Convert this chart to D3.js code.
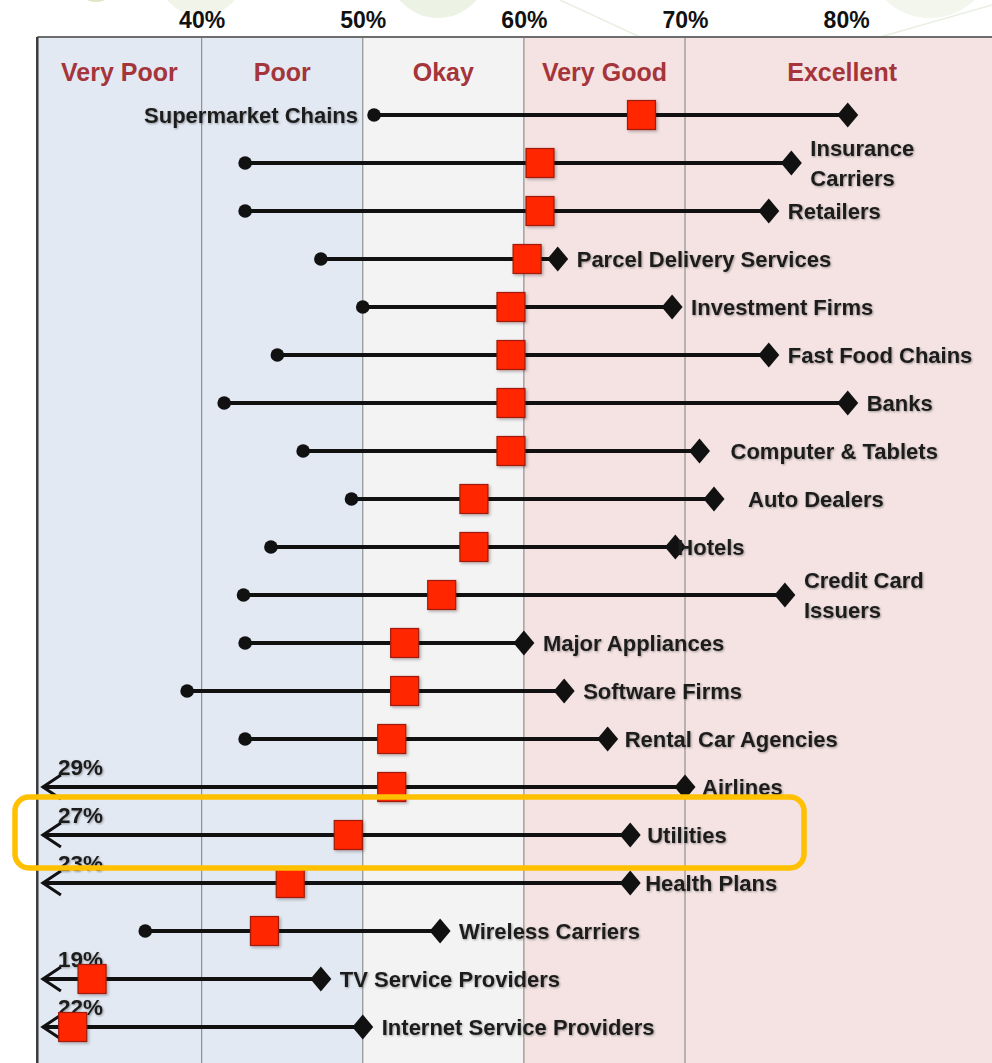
<!DOCTYPE html>
<html>
<head>
<meta charset="utf-8">
<script src="https://cdn.jsdelivr.net/npm/d3@7"></script>
<style>
  html, body { margin: 0; padding: 0; background: #ffffff; }
  svg { display: block; }
  text { font-family: "Liberation Sans", Arial, sans-serif; font-weight: bold; }
</style>
</head>
<body>
<div id="chart"></div>
<script>
// ---------------- DATA ----------------
const categories = [
  "Supermarket Chains", "Insurance Carriers", "Retailers", "Parcel Delivery Services",
  "Investment Firms", "Fast Food Chains", "Banks", "Computer & Tablets", "Auto Dealers",
  "Hotels", "Credit Card Issuers", "Major Appliances", "Software Firms",
  "Rental Car Agencies", "Airlines", "Utilities", "Health Plans", "Wireless Carriers",
  "TV Service Providers", "Internet Service Providers"
];
// lowest score (dot / arrow), average (red square), highest (diamond), in percent
const lowValues  = [50.7, 42.7, 42.7, 47.4, 50.0, 44.7, 41.4, 46.3, 49.3, 44.3, 42.6, 42.7, 39.1, 42.7, 29, 27, 23, 36.5, 19, 22];
const avgValues  = [67.3, 61.0, 61.0, 60.2, 59.2, 59.2, 59.2, 59.2, 56.9, 56.9, 54.9, 52.6, 52.6, 51.8, 51.8, 49.1, 45.5, 43.9, 33.2, 32.0];
const highValues = [80.1, 76.6, 75.2, 62.1, 69.2, 75.2, 80.1, 70.9, 71.8, 69.4, 76.2, 60.0, 62.5, 65.2, 70.0, 66.6, 66.6, 54.8, 47.4, 50.0];

const bandNames = ["Very Poor", "Poor", "Okay", "Very Good", "Excellent"];
const bandEdges = [29.8, 40, 50, 60, 70, 90];
const tickValues = [40, 50, 60, 70, 80];
const gridValues = [40, 50, 60, 70];
const highlighted = "Utilities";

// ---------------- LAYOUT / STYLE ----------------
const W = 992, H = 1063;
const bandColors = ["#e2e9f3", "#e2e9f3", "#f3f3f3", "#f5e3e3", "#f5e3e3"];
const labelWrap = { "Insurance Carriers": ["Insurance", "Carriers"], "Credit Card Issuers": ["Credit Card", "Issuers"] };
const labelNudge = { "Computer & Tablets": 12, "Auto Dealers": 15, "Hotels": -17, "Health Plans": -4, "Airlines": -2, "Utilities": -2, "Rental Car Agencies": -2 };
const labelLeft = new Set(["Supermarket Chains"]);

const svg = d3.select("#chart").append("svg").attr("width", W).attr("height", H);
const defs = svg.append("defs");
const f = defs.append("filter").attr("id", "soft").attr("x", "-10%").attr("y", "-30%").attr("width", "120%").attr("height", "160%");
f.append("feDropShadow").attr("dx", 1).attr("dy", 1).attr("stdDeviation", 1.2).attr("flood-color", "#000").attr("flood-opacity", 0.35);
const f2 = defs.append("filter").attr("id", "sq").attr("x", "-30%").attr("y", "-30%").attr("width", "160%").attr("height", "160%");
f2.append("feDropShadow").attr("dx", 1.5).attr("dy", 1.5).attr("stdDeviation", 1.5).attr("flood-color", "#000").attr("flood-opacity", 0.3);

const x = d3.scaleLinear().domain([30, 70]).range([40.5, 685]);
const y = d3.scalePoint().domain(categories).range([115, 1027]);
const plotTop = 37;

// faint decorative background circles (top)
const deco = svg.append("g");
deco.append("circle").attr("cx", 96).attr("cy", -18).attr("r", 20).attr("fill", "#dfe8c4");
deco.append("circle").attr("cx", 201).attr("cy", -28).attr("r", 44).attr("fill", "#f1f5e9");
deco.append("circle").attr("cx", 438).attr("cy", -32).attr("r", 50).attr("fill", "#edf3e4");
deco.append("circle").attr("cx", 930).attr("cy", -46).attr("r", 64).attr("fill", "#f2f6ec");
deco.append("line").attr("x1", 560).attr("y1", 0).attr("x2", 640).attr("y2", 37).attr("stroke", "#e9efe2").attr("stroke-width", 1.5);
deco.append("line").attr("x1", 880).attr("y1", 37).attr("x2", 992).attr("y2", 5).attr("stroke", "#e9efe2").attr("stroke-width", 1.5);

// bands
const bands = bandNames.map((n, i) => ({ name: n, a: bandEdges[i], b: bandEdges[i + 1], c: bandColors[i] }));
svg.append("g").selectAll("rect").data(bands).join("rect")
  .attr("x", d => x(d.a)).attr("y", plotTop)
  .attr("width", d => x(d.b) - x(d.a)).attr("height", H - plotTop)
  .attr("fill", d => d.c);

// grid lines
svg.append("g").selectAll("line").data(gridValues).join("line")
  .attr("x1", d => x(d)).attr("x2", d => x(d))
  .attr("y1", plotTop).attr("y2", H)
  .attr("stroke", "#8f8f8f").attr("stroke-width", 1.2);

// plot border (top and left)
svg.append("line").attr("x1", x(29.8)).attr("x2", W).attr("y1", plotTop).attr("y2", plotTop)
  .attr("stroke", "#6d6d6d").attr("stroke-width", 2);
svg.append("line").attr("x1", x(29.8)).attr("x2", x(29.8)).attr("y1", plotTop).attr("y2", H)
  .attr("stroke", "#3a3a3a").attr("stroke-width", 2.5);

// band labels
svg.append("g").selectAll("text").data(bands).join("text")
  .attr("x", d => x((d.a + d.b) / 2) - (d.name === "Excellent" ? 4 : 0)).attr("y", 81)
  .attr("text-anchor", "middle").attr("font-size", 25).attr("fill", "#a5353b")
  .text(d => d.name);

// top axis
const axis = d3.axisTop(x).tickValues(tickValues).tickSize(0).tickPadding(9).tickFormat(d => d + "%");
const ag = svg.append("g").attr("transform", `translate(0,${plotTop})`).call(axis);
ag.select(".domain").remove();
ag.selectAll("text").attr("font-size", 23).attr("fill", "#111").attr("font-family", "Liberation Sans, Arial, sans-serif").attr("font-weight", "bold");

// rows
const rows = categories.map((c, i) => ({ name: c, low: lowValues[i], avg: avgValues[i], high: highValues[i] }));
const xmin = x.domain()[0];
const tipX = x(30.15);

const g = svg.append("g");
// lines
g.selectAll("line.rng").data(rows).join("line").attr("class", "rng")
  .attr("x1", d => d.low < xmin ? tipX : x(d.low)).attr("x2", d => x(d.high))
  .attr("y1", d => y(d.name)).attr("y2", d => y(d.name))
  .attr("stroke", "#111").attr("stroke-width", 4);

// low dots
g.selectAll("circle.low").data(rows.filter(d => d.low >= xmin)).join("circle").attr("class", "low")
  .attr("cx", d => x(d.low)).attr("cy", d => y(d.name)).attr("r", 6.8).attr("fill", "#111");

// arrows for off-scale lows
const off = rows.filter(d => d.low < xmin);
g.selectAll("path.arrow").data(off).join("path").attr("class", "arrow")
  .attr("d", d => { const yy = y(d.name); return `M${tipX + 18},${yy - 12} L${tipX},${yy} L${tipX + 18},${yy + 12}`; })
  .attr("fill", "none").attr("stroke", "#111").attr("stroke-width", 3).attr("stroke-linejoin", "miter");
g.selectAll("text.offlbl").data(off).join("text").attr("class", "offlbl")
  .attr("x", d => tipX + 15).attr("y", d => y(d.name) - 12)
  .attr("font-size", 22.5).attr("fill", "#1e1e1e").attr("filter", "url(#soft)")
  .text(d => d.low + "%");

// high diamonds
g.selectAll("path.high").data(rows).join("path").attr("class", "high")
  .attr("d", d => { const cx = x(d.high), cy = y(d.name); return `M${cx},${cy - 12.5} L${cx + 10.5},${cy} L${cx},${cy + 12.5} L${cx - 10.5},${cy} Z`; })
  .attr("fill", "#111");

// average squares
const SW = 28, SH = 29;
g.selectAll("rect.avg").data(rows).join("rect").attr("class", "avg")
  .attr("x", d => x(d.avg) - SW / 2).attr("y", d => y(d.name) - SH / 2)
  .attr("width", SW).attr("height", SH)
  .attr("fill", "#ff2600").attr("stroke", "#9e1b08").attr("stroke-width", 1.2)
  .attr("filter", "url(#sq)");

// category labels
const lbl = g.selectAll("text.cat").data(rows).join("text").attr("class", "cat")
  .attr("font-size", 22).attr("fill", "#1e1e1e").attr("filter", "url(#soft)")
  .attr("text-anchor", d => labelLeft.has(d.name) ? "end" : "start")
  .attr("x", d => labelLeft.has(d.name) ? x(d.low) - 16 : x(d.high) + 19 + (labelNudge[d.name] || 0))
  .attr("y", d => y(d.name));
lbl.each(function (d) {
  const t = d3.select(this);
  const lines = labelWrap[d.name] || [d.name];
  const x0 = t.attr("x");
  lines.forEach((ln, i) => {
    const o = lines.length === 1 ? 0 : (i === 0 ? -15 : 15);
    t.append("tspan").attr("x", x0).attr("y", y(d.name) + o).attr("dy", "0.36em").text(ln);
  });
});

// highlight box around the selected row
const hy = y(highlighted);
svg.append("rect")
  .attr("x", 15).attr("y", hy - 38).attr("width", 789).attr("height", 71).attr("rx", 14)
  .attr("fill", "none").attr("stroke", "#ffc000").attr("stroke-width", 5.5);
</script>
</body>
</html>
